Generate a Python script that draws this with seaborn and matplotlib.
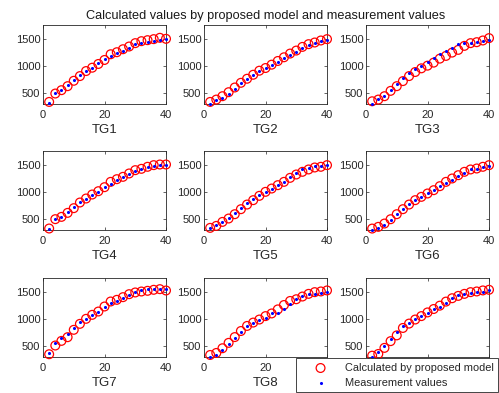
import numpy as np
import pandas as pd
import matplotlib
matplotlib.use('Agg')
import matplotlib.pyplot as plt
import seaborn as sns

# sample positions (same for all gauges)
x = list(range(2, 41, 2))
names = ['TG1', 'TG2', 'TG3', 'TG4', 'TG5', 'TG6', 'TG7', 'TG8', 'TG9']

# calculated by proposed model
calc = {
    'TG1': [324, 481, 544, 619, 720, 808, 902, 965, 1035, 1110, 1217, 1255, 1311, 1362, 1425, 1462, 1481, 1500, 1525, 1506],
    'TG2': [324, 368, 431, 506, 594, 682, 758, 833, 909, 959, 1022, 1091, 1160, 1230, 1286, 1355, 1406, 1437, 1475, 1500],
    'TG3': [336, 368, 431, 531, 619, 714, 808, 884, 953, 1003, 1060, 1135, 1186, 1248, 1299, 1374, 1425, 1443, 1475, 1519],
    'TG4': [313, 488, 531, 606, 694, 800, 875, 950, 1012, 1087, 1187, 1237, 1281, 1344, 1406, 1431, 1469, 1500, 1512, 1512],
    'TG5': [325, 362, 437, 500, 581, 675, 762, 844, 925, 1000, 1062, 1125, 1187, 1262, 1325, 1375, 1419, 1456, 1469, 1500],
    'TG6': [312, 344, 406, 487, 581, 675, 762, 844, 906, 969, 1031, 1106, 1187, 1250, 1312, 1375, 1419, 1437, 1469, 1500],
    'TG7': [337, 500, 587, 656, 794, 906, 1000, 1075, 1137, 1231, 1325, 1356, 1406, 1462, 1494, 1512, 1525, 1544, 1556, 1531],
    'TG8': [323, 361, 449, 550, 658, 772, 867, 930, 987, 1051, 1101, 1177, 1259, 1335, 1367, 1418, 1468, 1500, 1513, 1532],
    'TG9': [310, 342, 456, 582, 690, 829, 911, 987, 1051, 1120, 1184, 1247, 1323, 1386, 1430, 1468, 1500, 1513, 1532, 1544],
}

# measurement values
meas = {
    'TG1': [310, 494, 544, 632, 733, 821, 902, 965, 1047, 1123, 1192, 1236, 1286, 1343, 1406, 1425, 1450, 1469, 1487, 1506],
    'TG2': [292, 355, 400, 469, 575, 670, 752, 827, 903, 953, 1016, 1079, 1142, 1211, 1267, 1330, 1387, 1425, 1456, 1487],
    'TG3': [292, 380, 443, 544, 657, 764, 871, 940, 997, 1079, 1154, 1223, 1286, 1343, 1406, 1425, 1437, 1443, 1456, 1487],
    'TG4': [300, 490, 530, 625, 720, 806, 875, 950, 1000, 1094, 1156, 1219, 1269, 1325, 1394, 1419, 1456, 1481, 1500, 1512],
    'TG5': [331, 375, 437, 512, 606, 700, 800, 869, 937, 1000, 1062, 1125, 1187, 1269, 1344, 1419, 1450, 1481, 1481, 1512],
    'TG6': [281, 331, 387, 481, 581, 675, 769, 844, 906, 969, 1031, 1106, 1169, 1231, 1294, 1362, 1419, 1437, 1456, 1481],
    'TG7': [369, 544, 637, 719, 825, 937, 1000, 1075, 1137, 1219, 1294, 1337, 1387, 1450, 1512, 1544, 1556, 1556, 1562, 1562],
    'TG8': [278, 323, 424, 531, 639, 753, 861, 930, 987, 1025, 1101, 1114, 1177, 1272, 1367, 1430, 1462, 1468, 1481, 1500],
    'TG9': [291, 373, 500, 626, 753, 861, 924, 994, 1051, 1114, 1177, 1228, 1304, 1386, 1449, 1462, 1481, 1494, 1500, 1532],
}

sns.set_style('ticks')
plt.rcParams['font.family'] = ['Liberation Sans', 'DejaVu Sans']

fig = plt.figure(figsize=(4.99, 3.93), dpi=100)

lefts = [43 / 499, 204 / 499, 366 / 499]
bottoms = [289 / 393, 163 / 393, 36 / 393]
w, h = 123 / 499, 79 / 393

axes = []
for i, name in enumerate(names):
    ax = fig.add_axes([lefts[i % 3], bottoms[i // 3], w, h])
    sns.scatterplot(x=x, y=calc[name], ax=ax, marker='o', s=40, facecolor='none',
                    edgecolor='red', linewidth=0.9, clip_on=False, zorder=3,
                    label='Calculated by proposed model')
    sns.scatterplot(x=x, y=meas[name], ax=ax, marker='o', s=5, color='blue',
                    linewidth=0, clip_on=False, zorder=4,
                    label='Measurement values')
    ax.set_xlim(0, 40)
    ax.set_ylim(285, 1765)
    ax.set_xticks([0, 20, 40])
    ax.set_yticks([500, 1000, 1500])
    ax.tick_params(direction='in', top=True, right=True, labelsize=8,
                   length=2.5, width=0.5, pad=2, colors='#262626')
    ax.tick_params(axis='x', pad=4)
    for sp in ax.spines.values():
        sp.set_linewidth(0.6)
        sp.set_color('#262626')
    ax.set_xlabel(name, fontsize=9.5, labelpad=3.5, color='#262626')
    ax.get_legend().remove()
    axes.append(ax)

axes[1].set_title('Calculated values by proposed model and measurement values',
                  fontsize=9.2, pad=4, color='#1a1a1a')

handles, labels = axes[-1].get_legend_handles_labels()
leg = fig.legend(handles, labels, loc='lower right', bbox_to_anchor=(0.998, 0.002),
                 fontsize=7.9, frameon=True, fancybox=False, edgecolor='#262626',
                 framealpha=1, handletextpad=0.33, handlelength=3.75,
                 borderpad=0.4, labelspacing=0.45, borderaxespad=0)
leg.get_frame().set_linewidth(0.6)
leg.set_zorder(10)

fig.savefig('out.png', dpi=100)
